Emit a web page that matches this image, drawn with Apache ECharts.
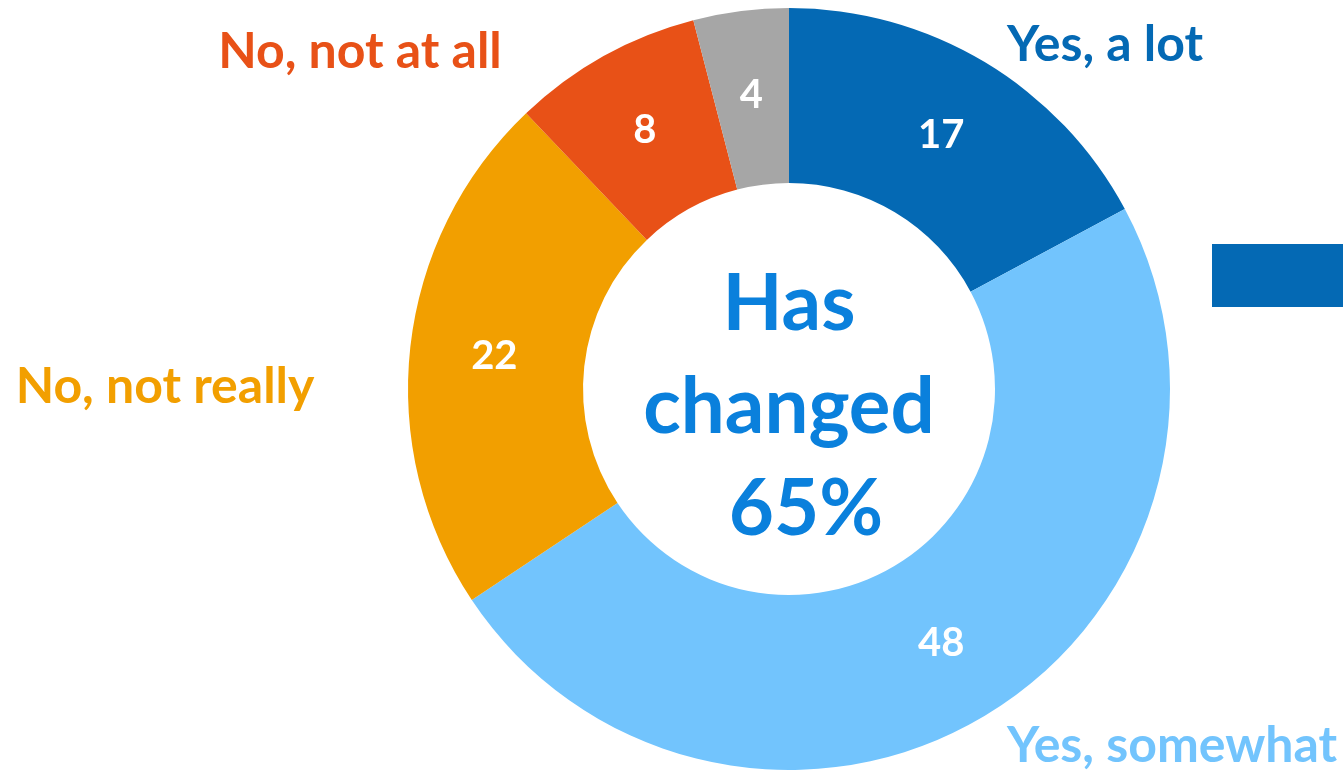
<!DOCTYPE html>
<html>
<head>
<meta charset="utf-8">
<script src="https://cdn.jsdelivr.net/npm/echarts@6/dist/echarts.min.js"></script>
<style>
  html, body { margin: 0; padding: 0; background: #fff; }
  #chart { width: 1343px; height: 773px; }
</style>
</head>
<body>
<div id="chart"></div>
<script>
const categories = ['Yes, a lot', 'Yes, somewhat', 'No, not really', 'No, not at all', 'Other'];
const values = [17, 48, 22, 8, 4];
const colors = ['#0469B4', '#72C4FD', '#F29F00', '#E85117', '#A6A6A6'];
const centerLines = ['Has', 'changed', '65%'];

const chart = echarts.init(document.getElementById('chart'), null, { renderer: 'canvas' });

const font = 'Lato, "Open Sans", sans-serif';

// category names sit around the ring, not at pie label positions
const namePos = [
  { x: 1105, y: 45 },
  { x: 1172, y: 746 },
  { x: 165, y: 387 },
  { x: 360, y: 52 }
];

const graphics = namePos.map((p, i) => ({
  type: 'text',
  x: p.x,
  y: p.y,
  style: {
    text: categories[i],
    fill: colors[i],
    font: 'bold 50px ' + font,
    textAlign: 'center',
    textVerticalAlign: 'middle'
  }
}));

// centre caption, last line sits a bit to the right like the original
const centerPos = [
  { x: 789, y: 305 },
  { x: 789, y: 408 },
  { x: 806, y: 510 }
];
centerLines.forEach((line, i) => {
  graphics.push({
    type: 'text',
    x: centerPos[i].x,
    y: centerPos[i].y,
    style: {
      text: line,
      fill: '#0A80DC',
      font: 'bold 78px ' + font,
      textAlign: 'center',
      textVerticalAlign: 'middle'
    }
  });
});

// cut-off block at the right edge
graphics.push({
  type: 'rect',
  shape: { x: 1212, y: 244, width: 131, height: 63 },
  style: { fill: '#0469B4' }
});

const option = {
  animation: false,
  backgroundColor: '#fff',
  graphic: graphics,
  series: [{
    type: 'pie',
    center: [789, 389],
    radius: [206, 381],
    startAngle: 90,
    clockwise: true,
    itemStyle: { borderWidth: 0 },
    label: {
      show: true,
      position: 'inside',
      color: '#fff',
      fontFamily: font,
      fontWeight: 'bold',
      fontSize: 40,
      formatter: '{c}'
    },
    labelLine: { show: false },
    data: values.map((v, i) => ({
      value: v,
      name: categories[i],
      itemStyle: { color: colors[i] }
    }))
  }]
};

chart.setOption(option);
</script>
</body>
</html>
